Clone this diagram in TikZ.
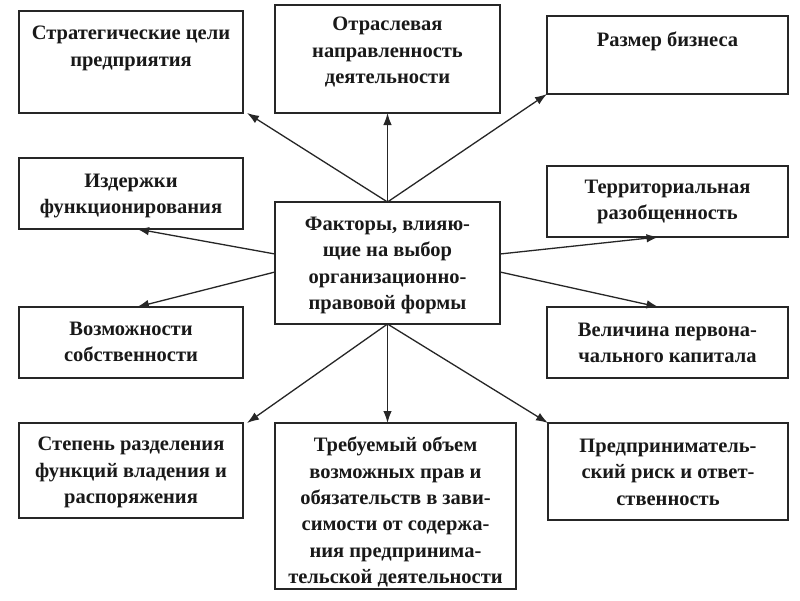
\documentclass[tikz,border=0pt]{standalone}
\usepackage{fontspec}
\setmainfont{Liberation Serif}
\usetikzlibrary{arrows.meta}
\begin{document}
\begin{tikzpicture}[x=1pt,y=-1pt,
  box/.style={draw=black!85, line width=1.3pt, inner sep=0pt, outer sep=0pt, fill=white},
  txt/.style={anchor=north, inner sep=0pt, align=center, text=black!90,
    font=\fontsize{20.5}{26.3}\selectfont\bfseries},
  arr/.style={line width=1.3pt, draw=black!85, -{Latex[length=12pt,width=8.5pt]}}]
\useasboundingbox[fill=white] (0,0) rectangle (800,600);
% boxes
\node[box, minimum width=224pt, minimum height=102pt] (b1) at (131,62) {};
\node[box, minimum width=225pt, minimum height=108pt] (b2) at (387.5,59) {};
\node[box, minimum width=241pt, minimum height=78pt] (b3) at (667.5,55) {};
\node[box, minimum width=224pt, minimum height=71pt] (b4) at (131,193.5) {};
\node[box, minimum width=241pt, minimum height=71pt] (b5) at (667.5,201.5) {};
\node[box, minimum width=225pt, minimum height=122pt] (c) at (387.5,263) {};
\node[box, minimum width=224pt, minimum height=71pt] (b6) at (131,342.5) {};
\node[box, minimum width=241pt, minimum height=71pt] (b7) at (667.5,342.5) {};
\node[box, minimum width=224pt, minimum height=95pt] (b8) at (131,470.5) {};
\node[box, minimum width=241pt, minimum height=166pt] (b9) at (395.5,506) {};
\node[box, minimum width=240pt, minimum height=97pt] (b10) at (668,471.5) {};
% texts
\node[txt] (t1) at ([yshift=-15pt]b1.north) {Стратегические цели\\предприятия};
\node[txt] (t2) at ([yshift=-12pt]b2.north) {Отраслевая\\направленность\\деятельности};
\node[txt] (t3) at ([yshift=-16pt]b3.north) {Размер бизнеса};
\node[txt] (t4) at ([yshift=-16pt]b4.north) {Издержки\\функционирования};
\node[txt] (t5) at ([yshift=-14pt]b5.north) {Территориальная\\разобщенность};
\node[txt] (tc) at ([yshift=-15pt]c.north) {Факторы, влияю-\\щие на выбор\\организационно-\\правовой формы};
\node[txt] (t6) at ([yshift=-15pt]b6.north) {Возможности\\собственности};
\node[txt] (t7) at ([yshift=-16pt]b7.north) {Величина первона-\\чального капитала};
\node[txt] (t8) at ([yshift=-14pt]b8.north) {Степень разделения\\функций владения и\\распоряжения};
\node[txt] (t9) at ([yshift=-14pt]b9.north) {Требуемый объем\\возможных прав и\\обязательств в зави-\\симости от содержа-\\ния предпринима-\\тельской деятельности};
\node[txt] (t10) at ([yshift=-16pt]b10.north) {Предприниматель-\\ский риск и ответ-\\ственность};
% arrows
\draw[arr] (c.north) -- ([xshift=4pt]b1.south east);
\draw[arr] (c.north) -- (b2.south);
\draw[arr] (c.north) -- (b3.south west);
\draw[arr] ([yshift=9pt]c.west) -- ([xshift=6pt]b4.south);
\draw[arr] ([yshift=-9pt]c.west) -- ([xshift=6pt]b6.north);
\draw[arr] ([yshift=9pt]c.east) -- ([xshift=-9pt]b5.south);
\draw[arr] ([yshift=-9pt]c.east) -- ([xshift=-9pt]b7.north);
\draw[arr] (c.south) -- ([xshift=4pt]b8.north east);
\draw[arr] (c.south) -- (c.south |- b9.north);
\draw[arr] (c.south) -- (b10.north west);
\end{tikzpicture}
\end{document}
